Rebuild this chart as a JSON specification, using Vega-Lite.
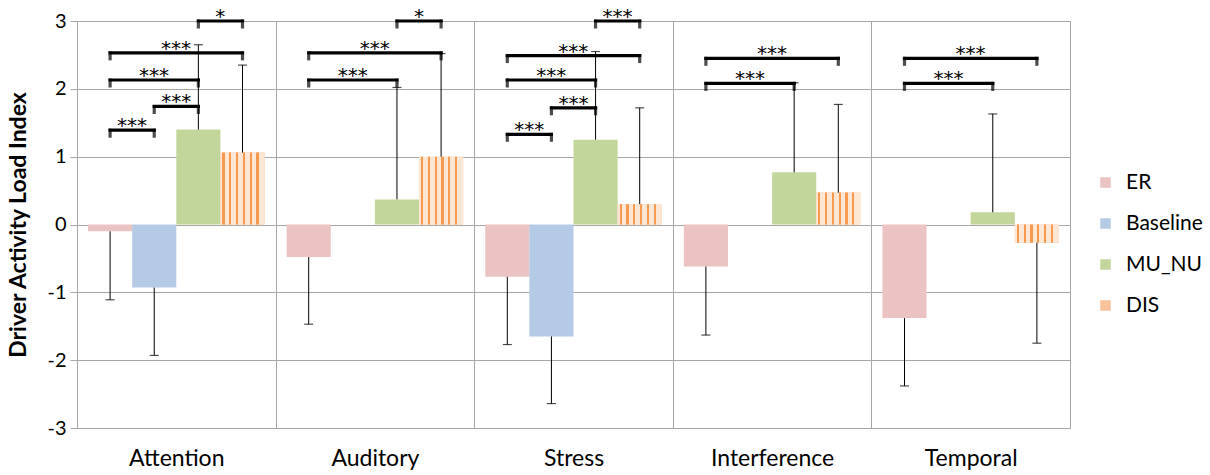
{
  "$schema": "https://vega.github.io/schema/vega-lite/v6.json",
  "width": 993,
  "height": 407,
  "autosize": {"type": "none"},
  "padding": {"left": 77, "top": 21, "right": 140, "bottom": 47},
  "config": {
    "font": "Lato",
    "view": {"stroke": "#a6a6a6", "strokeWidth": 1},
    "axis": {"gridColor": "#a6a6a6", "domainColor": "#a6a6a6", "tickColor": "#a6a6a6", "labelColor": "#000000", "titleColor": "#000000", "labelFont": "Lato", "titleFont": "Lato"}
  },
  "datasets": {
    "bars": [
      {"cat": "Attention", "series": "ER", "value": -0.10, "errEnd": -1.11},
      {"cat": "Attention", "series": "Baseline", "value": -0.93, "errEnd": -1.93},
      {"cat": "Attention", "series": "MU_NU", "value": 1.40, "errEnd": 2.65},
      {"cat": "Attention", "series": "DIS", "value": 1.06, "errEnd": 2.35},
      {"cat": "Auditory", "series": "ER", "value": -0.48, "errEnd": -1.47},
      {"cat": "Auditory", "series": "MU_NU", "value": 0.37, "errEnd": 2.02},
      {"cat": "Auditory", "series": "DIS", "value": 1.00, "errEnd": 2.52},
      {"cat": "Stress", "series": "ER", "value": -0.77, "errEnd": -1.77},
      {"cat": "Stress", "series": "Baseline", "value": -1.65, "errEnd": -2.64},
      {"cat": "Stress", "series": "MU_NU", "value": 1.25, "errEnd": 2.55},
      {"cat": "Stress", "series": "DIS", "value": 0.30, "errEnd": 1.72},
      {"cat": "Interference", "series": "ER", "value": -0.62, "errEnd": -1.63},
      {"cat": "Interference", "series": "MU_NU", "value": 0.77, "errEnd": 2.09},
      {"cat": "Interference", "series": "DIS", "value": 0.47, "errEnd": 1.77},
      {"cat": "Temporal", "series": "ER", "value": -1.38, "errEnd": -2.38},
      {"cat": "Temporal", "series": "MU_NU", "value": 0.18, "errEnd": 1.63},
      {"cat": "Temporal", "series": "DIS", "value": -0.27, "errEnd": -1.75}
    ],
    "brackets": [
      {"id": "a1", "cat": "Attention", "s1": "ER", "s2": "Baseline", "level": 1.39, "label": "***"},
      {"id": "a2", "cat": "Attention", "s1": "Baseline", "s2": "MU_NU", "level": 1.74, "label": "***"},
      {"id": "a3", "cat": "Attention", "s1": "ER", "s2": "MU_NU", "level": 2.13, "label": "***"},
      {"id": "a4", "cat": "Attention", "s1": "ER", "s2": "DIS", "level": 2.53, "label": "***"},
      {"id": "a5", "cat": "Attention", "s1": "MU_NU", "s2": "DIS", "level": 3.0, "label": "*"},
      {"id": "b1", "cat": "Auditory", "s1": "ER", "s2": "MU_NU", "level": 2.13, "label": "***"},
      {"id": "b2", "cat": "Auditory", "s1": "ER", "s2": "DIS", "level": 2.53, "label": "***"},
      {"id": "b3", "cat": "Auditory", "s1": "MU_NU", "s2": "DIS", "level": 3.0, "label": "*"},
      {"id": "c1", "cat": "Stress", "s1": "ER", "s2": "Baseline", "level": 1.33, "label": "***"},
      {"id": "c2", "cat": "Stress", "s1": "Baseline", "s2": "MU_NU", "level": 1.72, "label": "***"},
      {"id": "c3", "cat": "Stress", "s1": "ER", "s2": "MU_NU", "level": 2.13, "label": "***"},
      {"id": "c4", "cat": "Stress", "s1": "ER", "s2": "DIS", "level": 2.49, "label": "***"},
      {"id": "c5", "cat": "Stress", "s1": "MU_NU", "s2": "DIS", "level": 3.0, "label": "***"},
      {"id": "d1", "cat": "Interference", "s1": "ER", "s2": "MU_NU", "level": 2.08, "label": "***"},
      {"id": "d2", "cat": "Interference", "s1": "ER", "s2": "DIS", "level": 2.45, "label": "***"},
      {"id": "e1", "cat": "Temporal", "s1": "ER", "s2": "MU_NU", "level": 2.08, "label": "***"},
      {"id": "e2", "cat": "Temporal", "s1": "ER", "s2": "DIS", "level": 2.45, "label": "***"}
    ]
  },
  "layer": [
    {
      "data": {"name": "bars"},
      "mark": {"type": "bar", "strokeWidth": 0},
      "encoding": {
        "x": {
          "field": "cat", "type": "nominal",
          "sort": ["Attention", "Auditory", "Stress", "Interference", "Temporal"],
          "scale": {"paddingInner": 0, "paddingOuter": 0},
          "axis": {"title": null, "labelAngle": 0, "labelFontSize": 23, "labelPadding": 19, "ticks": false, "domain": false, "grid": true, "tickBand": "extent"}
        },
        "xOffset": {
          "field": "series", "type": "nominal",
          "scale": {"domain": ["ER", "Baseline", "MU_NU", "DIS"], "paddingInner": 0, "paddingOuter": 0.25}
        },
        "y": {
          "field": "value", "type": "quantitative",
          "scale": {"domain": [-3, 3], "nice": false},
          "axis": {"title": "Driver Activity Load Index", "titleFontSize": 23, "titleFontWeight": "bold", "values": [-3, -2, -1, 0, 1, 2, 3], "labelExpr": "'' + datum.value", "labelFontSize": 20, "tickSize": 7, "labelPadding": 4, "titlePadding": 16, "grid": true}
        },
        "color": {
          "field": "series", "type": "nominal",
          "scale": {
            "domain": ["ER", "Baseline", "MU_NU", "DIS"],
            "range": ["#ebc3c2", "#b5cae5", "#c2d69b", "#fac29a"]
          },
          "legend": {"orient": "none", "legendX": 1018, "legendY": 151, "title": null, "symbolType": "square", "symbolSize": 110, "symbolStrokeWidth": 0, "labelFontSize": 21, "rowPadding": 19, "labelOffset": 10, "labelColor": "#000000"}
        }
      }
    },
    {
      "data": {"name": "bars"},
      "transform": [{"filter": "datum.series == 'DIS'"}],
      "mark": {"type": "bar", "strokeWidth": 0, "fill": {"gradient": "linear", "x1": 0, "y1": 0, "x2": 1, "y2": 0, "stops": [
                {"offset": 0, "color": "#fde6d4"}, {"offset": 0.043, "color": "#fde6d4"},
                {"offset": 0.043, "color": "#f79a50"}, {"offset": 0.093, "color": "#f79a50"},
                {"offset": 0.093, "color": "#fde6d4"}, {"offset": 0.197, "color": "#fde6d4"},
                {"offset": 0.197, "color": "#f79a50"}, {"offset": 0.247, "color": "#f79a50"},
                {"offset": 0.247, "color": "#fde6d4"}, {"offset": 0.351, "color": "#fde6d4"},
                {"offset": 0.351, "color": "#f79a50"}, {"offset": 0.401, "color": "#f79a50"},
                {"offset": 0.401, "color": "#fde6d4"}, {"offset": 0.505, "color": "#fde6d4"},
                {"offset": 0.505, "color": "#f79a50"}, {"offset": 0.555, "color": "#f79a50"},
                {"offset": 0.555, "color": "#fde6d4"}, {"offset": 0.659, "color": "#fde6d4"},
                {"offset": 0.659, "color": "#f79a50"}, {"offset": 0.709, "color": "#f79a50"},
                {"offset": 0.709, "color": "#fde6d4"}, {"offset": 0.813, "color": "#fde6d4"},
                {"offset": 0.813, "color": "#f79a50"}, {"offset": 0.863, "color": "#f79a50"},
                {"offset": 0.863, "color": "#fde6d4"}, {"offset": 1, "color": "#fde6d4"}
              ]}},
      "encoding": {
        "x": {"field": "cat", "type": "nominal", "sort": ["Attention", "Auditory", "Stress", "Interference", "Temporal"]},
        "xOffset": {"field": "series", "type": "nominal"},
        "y": {"field": "value", "type": "quantitative"}
      }
    },
    {
      "data": {"name": "bars"},
      "mark": {"type": "rule", "color": "#000000", "strokeWidth": 1},
      "encoding": {
        "x": {"field": "cat", "type": "nominal", "sort": ["Attention", "Auditory", "Stress", "Interference", "Temporal"]},
        "xOffset": {"field": "series", "type": "nominal"},
        "y": {"field": "value", "type": "quantitative"},
        "y2": {"field": "errEnd"}
      }
    },
    {
      "data": {"name": "bars"},
      "mark": {"type": "tick", "color": "#000000", "thickness": 1.2, "size": 9, "orient": "horizontal"},
      "encoding": {
        "x": {"field": "cat", "type": "nominal", "sort": ["Attention", "Auditory", "Stress", "Interference", "Temporal"]},
        "xOffset": {"field": "series", "type": "nominal"},
        "y": {"field": "errEnd", "type": "quantitative"}
      }
    },
    {
      "data": {"name": "brackets"},
      "transform": [{"fold": ["s1", "s2"], "as": ["end", "s"]}],
      "mark": {"type": "line", "color": "#000000", "strokeWidth": 3.2, "strokeCap": "square"},
      "encoding": {
        "x": {"field": "cat", "type": "nominal", "sort": ["Attention", "Auditory", "Stress", "Interference", "Temporal"]},
        "xOffset": {"field": "s", "type": "nominal"},
        "y": {"field": "level", "type": "quantitative"},
        "detail": {"field": "id", "type": "nominal"}
      }
    },
    {
      "data": {"name": "brackets"},
      "transform": [{"fold": ["s1", "s2"], "as": ["end", "s"]}],
      "mark": {"type": "tick", "color": "#000000", "thickness": 3.2, "size": 9, "orient": "vertical", "yOffset": 3},
      "encoding": {
        "x": {"field": "cat", "type": "nominal", "sort": ["Attention", "Auditory", "Stress", "Interference", "Temporal"]},
        "xOffset": {"field": "s", "type": "nominal"},
        "y": {"field": "level", "type": "quantitative"}
      }
    },
    {
      "data": {"name": "brackets"},
      "transform": [{"filter": "indexof(['ER','Baseline','MU_NU','DIS'], datum.s2) - indexof(['ER','Baseline','MU_NU','DIS'], datum.s1) == 1"}],
      "mark": {"type": "text", "font": "DejaVu Sans", "fontSize": 20, "baseline": "alphabetic", "dy": 2, "dx": 22, "color": "#000000"},
      "encoding": {
        "x": {"field": "cat", "type": "nominal", "sort": ["Attention", "Auditory", "Stress", "Interference", "Temporal"]},
        "xOffset": {"field": "s1", "type": "nominal"},
        "y": {"field": "level", "type": "quantitative"},
        "text": {"field": "label"}
      }
    },
    {
      "data": {"name": "brackets"},
      "transform": [{"filter": "indexof(['ER','Baseline','MU_NU','DIS'], datum.s2) - indexof(['ER','Baseline','MU_NU','DIS'], datum.s1) == 2"}],
      "mark": {"type": "text", "font": "DejaVu Sans", "fontSize": 20, "baseline": "alphabetic", "dy": 2, "dx": 44, "color": "#000000"},
      "encoding": {
        "x": {"field": "cat", "type": "nominal", "sort": ["Attention", "Auditory", "Stress", "Interference", "Temporal"]},
        "xOffset": {"field": "s1", "type": "nominal"},
        "y": {"field": "level", "type": "quantitative"},
        "text": {"field": "label"}
      }
    },
    {
      "data": {"name": "brackets"},
      "transform": [{"filter": "indexof(['ER','Baseline','MU_NU','DIS'], datum.s2) - indexof(['ER','Baseline','MU_NU','DIS'], datum.s1) == 3"}],
      "mark": {"type": "text", "font": "DejaVu Sans", "fontSize": 20, "baseline": "alphabetic", "dy": 2, "dx": 66, "color": "#000000"},
      "encoding": {
        "x": {"field": "cat", "type": "nominal", "sort": ["Attention", "Auditory", "Stress", "Interference", "Temporal"]},
        "xOffset": {"field": "s1", "type": "nominal"},
        "y": {"field": "level", "type": "quantitative"},
        "text": {"field": "label"}
      }
    }
  ]
}
